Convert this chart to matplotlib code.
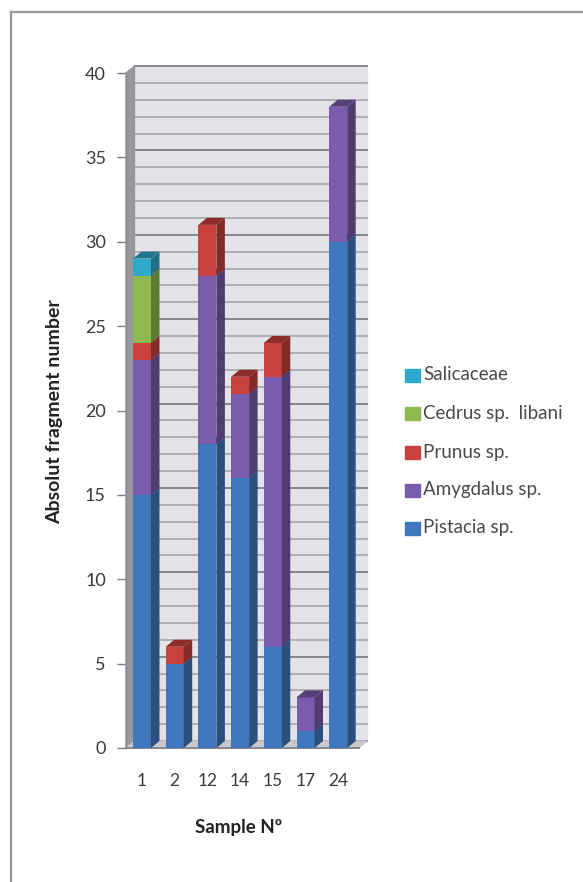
#!/usr/bin/env python
"""
Stacked pseudo-3D bars of charcoal fragment counts per sample
"""
import matplotlib
matplotlib.use('Agg')
import matplotlib.pyplot as plt
from matplotlib.colors import to_rgb
from matplotlib.lines import Line2D
from matplotlib.patches import Rectangle

samples = ['1', '2', '12', '14', '15', '17', '24']
pistacia = [15, 5, 18, 16, 6, 1, 30]
amygdalus = [8, 0, 10, 5, 16, 2, 8]
prunus = [1, 1, 3, 1, 2, 0, 0]
cedrus = [4, 0, 0, 0, 0, 0, 0]
salicaceae = [1, 0, 0, 0, 0, 0, 0]

series = [('Pistacia sp.', pistacia, '#3f78be'),
          ('Amygdalus sp.', amygdalus, '#7a5bac'),
          ('Prunus sp.', prunus, '#c8413f'),
          ('Cedrus sp.  libani', cedrus, '#8fb84e'),
          ('Salicaceae', salicaceae, '#2fa9c9')]

W, H = 583, 882
plt.rcParams['font.family'] = ['Lato', 'DejaVu Sans']

# pixel layout of the plot box (front plane)
left, right, y0, y40 = 126, 367, 748, 73
pitch = 32.7
x_per_px = 1 / pitch
y_per_px = 40 / (y0 - y40)
dx = 8.5 * x_per_px
dy = 7 * y_per_px
half = 9 * x_per_px


def shade(color, f):
    return tuple(c * f for c in to_rgb(color))


fig = plt.figure(figsize=(W / 100, H / 100), dpi=100)
ax = fig.add_axes([left / W, 1 - y0 / H, (right - left) / W, (y0 - y40) / H])
x_lo = -(142 - left) * x_per_px
x_hi = (right - 142) * x_per_px
ax.set_xlim(x_lo, x_hi)
ax.set_ylim(0, 40)
ax.patch.set_visible(False)
for s in ax.spines.values():
    s.set_visible(False)

# back wall, side wall and floor
wall_l = x_lo + dx
ax.fill([wall_l, x_hi, x_hi, wall_l], [dy, dy, 40 + dy, 40 + dy],
        color='#e4e4e8', clip_on=False, zorder=1)
ax.fill([x_lo, wall_l, wall_l, x_lo], [0, dy, 40 + dy, 40],
        color='#97979d', clip_on=False, zorder=2)
ax.fill([x_lo, wall_l, x_hi, x_hi - dx], [0, dy, dy, 0],
        color='#c8c8cc', clip_on=False, zorder=2)
for v in range(0, 41):
    major = v % 5 == 0
    ax.plot([wall_l, x_hi], [v + dy, v + dy], clip_on=False, zorder=1.5,
            color='#85858a' if major else '#a6a6aa', lw=1.4 if major else 1.2)
ax.plot([x_lo, x_hi - dx], [0, 0], color='#7a7a80', lw=1.2, clip_on=False, zorder=2.5)
ax.plot([x_lo, x_lo], [0, 40], color='#8a8a90', lw=1.0, clip_on=False, zorder=2.5)

# bars: front face through ax.bar, side and top derived from the values
bottoms = [0] * len(samples)
for name, values, color in series:
    for i, v in enumerate(values):
        if v == 0:
            continue
        b = bottoms[i]
        ax.bar(i, v, width=2 * half, bottom=b, color=color, zorder=5 + 0.1 * i)
        r = i + half
        ax.fill([r, r + dx, r + dx, r], [b, b + dy, b + v + dy, b + v],
                color=shade(color, 0.66), lw=0, zorder=5 + 0.1 * i)
        ax.fill([i - half, r, r + dx, i - half + dx],
                [b + v, b + v, b + v + dy, b + v + dy],
                color=shade(color, 0.7), lw=0, zorder=5 + 0.1 * i)
        bottoms[i] = b + v

ax.set_xticks(range(len(samples)), samples)
ax.set_yticks(range(0, 41, 5))
ax.tick_params(axis='x', length=0, pad=18, labelsize=12.5, labelcolor='#3a3a3a')
ax.tick_params(axis='y', length=6.5, width=1, color='#7a7a80', pad=8,
               labelsize=13, labelcolor='#3a3a3a')
ax.set_zorder(2)

fig.text(239 / W, 1 - 827 / H, 'Sample Nº', ha='center', va='center',
         fontsize=13.5, fontweight='bold', color='#222222')
fig.text(55 / W, 1 - 412 / H, 'Absolut fragment number', rotation=90, ha='center',
         va='center', fontsize=14, fontweight='bold', color='#222222')

# legend, top entry first
legend_y = [375, 413, 452, 490, 528]
for (name, values, color), y in zip(reversed(series), legend_y):
    fig.add_artist(Rectangle((405 / W, 1 - (y + 6.5) / H), 15 / W, 13 / H, color=color,
                             transform=fig.transFigure))
    fig.text(423 / W, 1 - y / H, name, va='center', fontsize=13.5, color='#4a4a4a')

# page frame of the scanned figure
frame = '#999999'
fig.add_artist(Line2D([11 / W, 11 / W], [0, 1 - 12 / H], color=frame, lw=1.7))
fig.add_artist(Line2D([11 / W, 1], [1 - 12 / H, 1 - 12 / H], color=frame, lw=1.7))

fig.savefig('out.png', dpi=100)
